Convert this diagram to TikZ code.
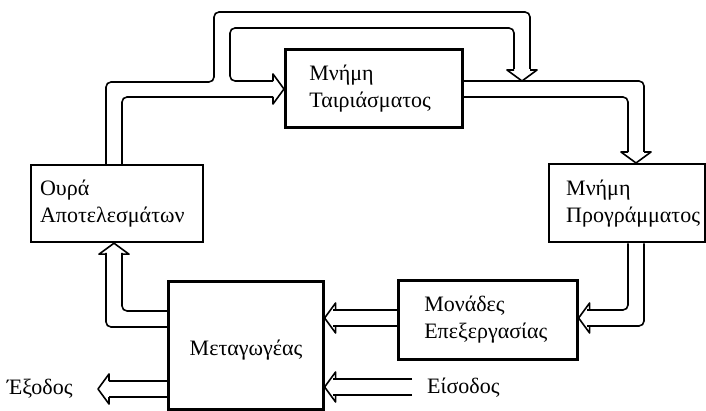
\documentclass[tikz,border=0pt]{standalone}
\usepackage{fontspec}
\setmainfont{Liberation Serif}
\begin{document}
\begin{tikzpicture}[x=1pt,y=-1pt,
  box/.style={draw, line width=2.6pt, inner ysep=0pt, align=left, anchor=north west,
              font=\fontsize{22}{27}\selectfont},
  lbl/.style={font=\fontsize{22}{27}\selectfont, inner sep=0pt},
  chan/.style={line width=1.6pt, line join=round, rounded corners=5pt},
  hh/.pic={\draw[line width=1.6pt, line join=round] (-11,-8) -- (-11,-15) -- (0,0) -- (-11,15) -- (-11,8);}]
\useasboundingbox (0,0) rectangle (706,411);

% boxes
\node[box, inner xsep=24pt, text width=129pt, minimum height=78pt] (tm) at (284,48) {Μνήμη\\Ταιριάσματος};
\node[box, line width=2.2pt, inner xsep=9pt, text width=154pt, minimum height=77pt] (ouro) at (30,164) {Ουρά\\Αποτελεσμάτων};
\node[box, line width=2.4pt, inner xsep=17pt, text width=122pt, minimum height=78pt] (pm) at (548,163) {Μνήμη\\Προγράμματος};
\node[box, inner xsep=26pt, text width=127pt, minimum height=79pt] (mu) at (397,279) {Μονάδες\\Επεξεργασίας};
\node[box, inner xsep=10pt, text width=135pt, minimum height=128pt, align=center] (sw) at (167,280) {};
\node[lbl] (swt) at (246,350) {Μεταγωγέας};
\node[lbl, anchor=west] (in) at (427,388) {Είσοδος};
\node[lbl, anchor=west] (out) at (7,389) {Έξοδος};
\coordinate (inend) at (412,387);

% Ουρά -> Μνήμη Ταιριάσματος, and loop over the top
\draw[chan] (ouro.north -| 106,0) -- (106,82) -- (214,82) -- (214,12) -- (530,12) -- (530,69);
\draw[chan] (ouro.north -| 122,0) -- (122,97) -- (273,97);
\draw[chan] (273,81) -- (230,81) -- (230,28) -- (514,28) -- (514,69);
\pic at (tm.west |- 0,89) {hh};
\pic[rotate=-90] at (522,81) {hh};

% Μνήμη Ταιριάσματος -> Μνήμη Προγράμματος
\draw[chan] (tm.east |- 0,81) -- (644,81) -- (644,152);
\draw[chan] (tm.east |- 0,97) -- (628,97) -- (628,152);
\pic[rotate=-90] at (pm.north -| 636,0) {hh};

% Μνήμη Προγράμματος -> Μονάδες
\draw[chan] (pm.south -| 628,0) -- (628,310) -- (587,310);
\draw[chan] (pm.south -| 644,0) -- (644,326) -- (587,326);
\pic[rotate=180] at (mu.east |- 0,318) {hh};

% Μονάδες -> Μεταγωγέας
\draw[chan] (mu.west |- 0,310) -- (333,310);
\draw[chan] (mu.west |- 0,326) -- (333,326);
\pic[rotate=180] at (sw.east |- 0,318) {hh};

% Είσοδος -> Μεταγωγέας
\draw[chan] (inend |- 0,379) -- (333,379);
\draw[chan] (inend |- 0,395) -- (333,395);
\pic[rotate=180] at (sw.east |- 0,387) {hh};

% Μεταγωγέας -> Έξοδος
\draw[chan] (sw.west |- 0,381) -- (109,381);
\draw[chan] (sw.west |- 0,397) -- (109,397);
\pic[rotate=180] at (98,389) {hh};

% Μεταγωγέας -> Ουρά
\draw[chan] (sw.west |- 0,311) -- (122,311) -- (122,253);
\draw[chan] (sw.west |- 0,327) -- (106,327) -- (106,253);
\pic[rotate=90] at (ouro.south -| 114,0) {hh};
\end{tikzpicture}
\end{document}
